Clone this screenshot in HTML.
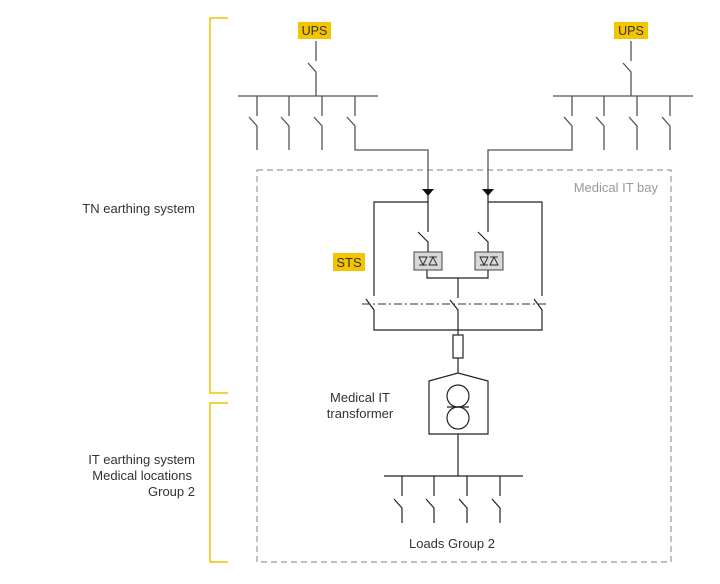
<!DOCTYPE html>
<html><head><meta charset="utf-8"><style>
html,body{margin:0;padding:0;background:#fff;}
svg{display:block;}
text{font-family:"Liberation Sans",sans-serif;}
</style></head><body>
<svg width="720" height="584" viewBox="0 0 720 584" xmlns="http://www.w3.org/2000/svg">
<!-- brackets -->
<g stroke="#f3c300" stroke-width="1.5" fill="none">
<polyline points="228,18 210,18 210,393 228,393"/>
<polyline points="228,403 210,403 210,562 228,562"/>
</g>
<text x="195" y="213" font-size="13" fill="#333" text-anchor="end">TN earthing system</text>
<text x="195" y="464" font-size="13" fill="#333" text-anchor="end">IT earthing system</text>
<text x="192" y="480" font-size="13" fill="#333" text-anchor="end">Medical locations</text>
<text x="195" y="496" font-size="13" fill="#333" text-anchor="end">Group 2</text>
<!-- dashed box -->
<rect x="257" y="170" width="414" height="392" fill="none" stroke="#999" stroke-width="1.2" stroke-dasharray="6,4"/>
<text x="658" y="192" font-size="13" fill="#999" text-anchor="end">Medical IT bay</text>
<!-- UPS labels -->
<rect x="298" y="22" width="33" height="17" fill="#f5c400"/>
<text x="314.5" y="35" font-size="12.5" fill="#333" text-anchor="middle">UPS</text>
<rect x="614" y="22" width="34" height="17" fill="#f5c400"/>
<text x="631" y="35" font-size="12.5" fill="#333" text-anchor="middle">UPS</text>
<rect x="333" y="253" width="32" height="18" fill="#f5c400"/>
<text x="349" y="267" font-size="13" fill="#333" text-anchor="middle">STS</text>
<g stroke="#555" stroke-width="1.3" fill="none">
<!-- left switchboard -->
<line x1="316" y1="41" x2="316" y2="61"/>
<polyline points="308,63 316,72 316,96"/>
<line x1="238" y1="96" x2="378" y2="96"/>
<line x1="257" y1="96" x2="257" y2="116"/><polyline points="249,117 257,126 257,150"/>
<line x1="289" y1="96" x2="289" y2="116"/><polyline points="281,117 289,126 289,150"/>
<line x1="322" y1="96" x2="322" y2="116"/><polyline points="314,117 322,126 322,150"/>
<line x1="355" y1="96" x2="355" y2="116"/><polyline points="347,117 355,126 355,150 428,150 428,190"/>
<!-- right switchboard -->
<line x1="631" y1="41" x2="631" y2="61"/>
<polyline points="623,63 631,72 631,96"/>
<line x1="553" y1="96" x2="693" y2="96"/>
<line x1="572" y1="96" x2="572" y2="116"/><polyline points="564,117 572,126 572,150 488,150 488,190"/>
<line x1="604" y1="96" x2="604" y2="116"/><polyline points="596,117 604,126 604,150"/>
<line x1="637" y1="96" x2="637" y2="116"/><polyline points="629,117 637,126 637,150"/>
<line x1="670" y1="96" x2="670" y2="116"/><polyline points="662,117 670,126 670,150"/>
</g>
<polygon points="422,189 434,189 428,196" fill="#111"/>
<polygon points="482,189 494,189 488,196" fill="#111"/>
<g stroke="#222" stroke-width="1.2" fill="none">
<polyline points="428,195 428,202 374,202 374,296"/>
<polyline points="488,195 488,202 542,202 542,296"/>
<line x1="428" y1="202" x2="428" y2="232"/>
<polyline points="418,232 428,242 428,252"/>
<line x1="488" y1="202" x2="488" y2="232"/>
<polyline points="478,232 488,242 488,252"/>
<polyline points="427,270 427,278 488,278 488,270"/>
<line x1="458" y1="278" x2="458" y2="298"/>
<polyline points="366,299 374,310 374,330 542,330 542,310 534,299"/>
<polyline points="450,300 458,310 458,335"/>
<rect x="453" y="335" width="10" height="23"/>
<line x1="458" y1="358" x2="458" y2="373"/>
<polygon points="429,381 458,373 488,381 488,434 429,434"/>
<circle cx="458" cy="396" r="11"/>
<circle cx="458" cy="418" r="11"/>
<line x1="447" y1="407" x2="469" y2="407"/>
<line x1="458" y1="434" x2="458" y2="476"/>
<line x1="384" y1="476" x2="523" y2="476"/>
<line x1="402" y1="476" x2="402" y2="496"/><polyline points="394,499 402,508 402,523"/>
<line x1="434" y1="476" x2="434" y2="496"/><polyline points="426,499 434,508 434,523"/>
<line x1="467" y1="476" x2="467" y2="496"/><polyline points="459,499 467,508 467,523"/>
<line x1="500" y1="476" x2="500" y2="496"/><polyline points="492,499 500,508 500,523"/>
</g>
<line x1="362" y1="304" x2="547" y2="304" stroke="#333" stroke-width="1.1" stroke-dasharray="8,3,2,3"/>
<!-- STS boxes -->
<g stroke="#444" stroke-width="1" fill="#d8d8d8">
<rect x="414" y="252" width="28" height="18"/>
<rect x="475" y="252" width="28" height="18"/>
</g>
<g stroke="#222" stroke-width="0.9" fill="none">
<polygon points="419,257 427,257 423,265"/><line x1="419" y1="265" x2="427" y2="265"/>
<polygon points="429,265 437,265 433,257"/><line x1="429" y1="257" x2="437" y2="257"/>
<polygon points="480,257 488,257 484,265"/><line x1="480" y1="265" x2="488" y2="265"/>
<polygon points="490,265 498,265 494,257"/><line x1="490" y1="257" x2="498" y2="257"/>
</g>
<text x="360" y="402" font-size="13" fill="#333" text-anchor="middle">Medical IT</text>
<text x="360" y="418" font-size="13" fill="#333" text-anchor="middle">transformer</text>
<text x="452" y="548" font-size="13" fill="#333" text-anchor="middle">Loads Group 2</text>
</svg>
</body></html>
